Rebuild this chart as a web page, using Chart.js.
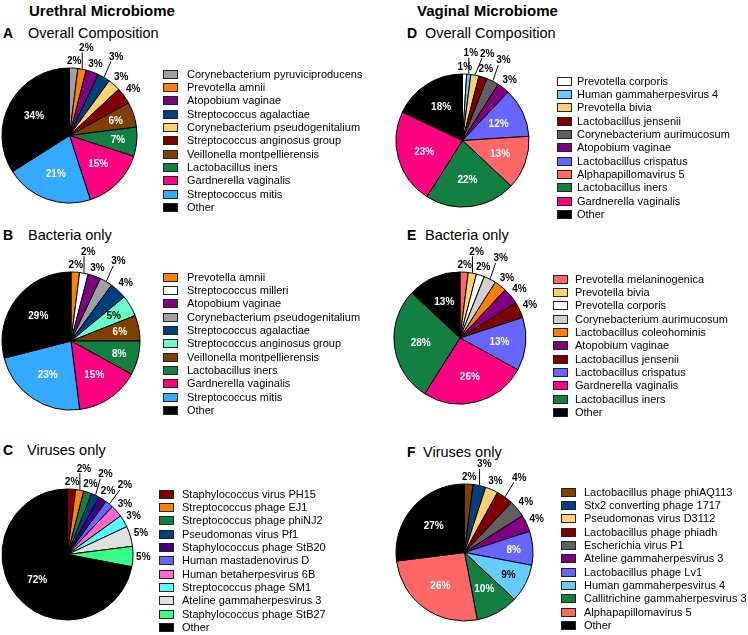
<!DOCTYPE html>
<html>
<head>
<meta charset="utf-8">
<script src="https://cdn.jsdelivr.net/npm/chart.js@4.4.1/dist/chart.umd.min.js"></script>
<style>
    body { margin: 0; width: 748px; height: 635px; overflow: hidden; background: #fff; position: relative;
           font-family: "Liberation Sans", Arial, Helvetica, sans-serif; color: #000; }
    .main-title { position: absolute; top: 2px; font-weight: bold; font-size: 15px; line-height: 18px; white-space: nowrap; }
    .panel-letter { position: absolute; font-weight: bold; font-size: 14px; line-height: 16px; }
    .panel-title { position: absolute; font-size: 14.5px; line-height: 16px; white-space: nowrap; }
    .pie { position: absolute; }
    .legend { position: absolute; font-size: 11px; }
    .legend-row { position: absolute; left: 0; height: 13px; line-height: 13px; white-space: nowrap; }
    .sw { position: absolute; left: 0; top: 2px; width: 13px; height: 7px; border: 1px solid #222; }
</style>
</head>
<body>
<div class="main-title" style="left:29px">Urethral Microbiome</div>
<div class="main-title" style="left:417px">Vaginal Microbiome</div>

<script>
// Dados (percentuais)
const labelsA = ['Corynebacterium pyruviciproducens', 'Prevotella amnii', 'Atopobium vaginae', 'Streptococcus agalactiae',
    'Corynebacterium pseudogenitalium', 'Streptococcus anginosus group', 'Veillonella montpellierensis',
    'Lactobacillus iners', 'Gardnerella vaginalis', 'Streptococcus mitis', 'Other'];
const valuesA = [2, 2, 3, 3, 3, 4, 6, 7, 15, 21, 34];

const labelsB = ['Prevotella amnii', 'Streptococcus milleri', 'Atopobium vaginae', 'Corynebacterium pseudogenitalium',
    'Streptococcus agalactiae', 'Streptococcus anginosus group', 'Veillonella montpellierensis',
    'Lactobacillus iners', 'Gardnerella vaginalis', 'Streptococcus mitis', 'Other'];
const valuesB = [2, 2, 3, 3, 4, 5, 6, 8, 15, 23, 29];

const labelsC = ['Staphylococcus virus PH15', 'Streptococcus phage EJ1', 'Streptococcus phage phiNJ2', 'Pseudomonas virus Pf1',
    'Staphylococcus phage StB20', 'Human mastadenovirus D', 'Human betaherpesvirus 6B', 'Streptococcus phage SM1',
    'Ateline gammaherpesvirus 3', 'Staphylococcus phage StB27', 'Other'];
const valuesC = [2, 2, 2, 2, 2, 2, 3, 3, 5, 5, 72];

const labelsD = ['Prevotella corporis', 'Human gammaherpesvirus 4', 'Prevotella bivia', 'Lactobacillus jensenii',
    'Corynebacterium aurimucosum', 'Atopobium vaginae', 'Lactobacillus crispatus', 'Alphapapillomavirus 5',
    'Lactobacillus iners', 'Gardnerella vaginalis', 'Other'];
const valuesD = [1, 1, 2, 2, 3, 3, 12, 13, 22, 23, 18];

const labelsE = ['Prevotella melaninogenica', 'Prevotella bivia', 'Prevotella corporis', 'Corynebacterium aurimucosum',
    'Lactobacillus coleohominis', 'Atopobium vaginae', 'Lactobacillus jensenii', 'Lactobacillus crispatus',
    'Gardnerella vaginalis', 'Lactobacillus iners', 'Other'];
const valuesE = [2, 2, 2, 3, 3, 4, 4, 13, 26, 28, 13];

const labelsF = ['Lactobacillus phage phiAQ113', 'Stx2 converting phage 1717', 'Pseudomonas virus D3112',
    'Lactobacillus phage phiadh', 'Escherichia virus P1', 'Ateline gammaherpesvirus 3', 'Lactobacillus phage Lv1',
    'Human gammaherpesvirus 4', 'Callitrichine gammaherpesvirus 3', 'Alphapapillomavirus 5', 'Other'];
const valuesF = [2, 3, 3, 4, 4, 4, 8, 9, 10, 26, 27];

// Cores
const colorsA = ['#A0A0A0', '#FF8000', '#800080', '#004080', '#FFD070', '#800000', '#804000', '#118040', '#FF0080', '#33AAFF', '#000000'];
const colorsB = ['#FF8000', '#FFFFFF', '#800080', '#A0A0A0', '#004080', '#66FFCC', '#804000', '#118040', '#FF0080', '#33AAFF', '#000000'];
const colorsC = ['#800000', '#FF8000', '#118040', '#004080', '#400080', '#6666FF', '#FF66CC', '#55FFFF', '#E0E0E0', '#33FF88', '#000000'];
const colorsD = ['#FFFFFF', '#66CCFF', '#FFD070', '#800000', '#606060', '#800080', '#6666FF', '#FF6666', '#118040', '#FF0080', '#000000'];
const colorsE = ['#FF6666', '#FFD070', '#FFFFFF', '#D0D0D0', '#FF8000', '#800080', '#800000', '#6666FF', '#FF0080', '#118040', '#000000'];
const colorsF = ['#804000', '#004080', '#FFD070', '#800000', '#606060', '#800080', '#6666FF', '#66CCFF', '#118040', '#FF6666', '#000000'];

function isLight(hex) {
    const n = parseInt(hex.slice(1), 16);
    const r = (n >> 16) & 255, g = (n >> 8) & 255, b = n & 255;
    return (0.2126 * r + 0.7152 * g + 0.0722 * b) / 255 > 0.65;
}

// Rótulos de percentagem (dentro / fora com linha de chamada)
const pctLabels = {
    id: 'pctLabels',
    afterDatasetsDraw(chart, args, opts) {
        const ctx = chart.ctx;
        const ds = chart.data.datasets[0];
        const meta = chart.getDatasetMeta(0);
        const placed = [];
        const h = 8;
        ctx.save();
        ctx.font = 'bold 10px "Liberation Sans", Arial, sans-serif';
        ctx.textAlign = 'center';
        ctx.textBaseline = 'middle';
        meta.data.forEach((arc, i) => {
            const v = ds.data[i];
            const p = arc.getProps(['x', 'y', 'startAngle', 'endAngle', 'outerRadius'], true);
            const a = (p.startAngle + p.endAngle) / 2;
            const cos = Math.cos(a), sin = Math.sin(a);
            const R = p.outerRadius;
            const txt = v + '%';
            if (v >= opts.insideMin) {
                const rho = R * (v >= 10 ? 0.6 : 0.72);
                ctx.fillStyle = isLight(ds.backgroundColor[i]) ? '#000' : '#fff';
                ctx.fillText(txt, p.x + rho * cos, p.y + rho * sin + 0.5);
                return;
            }
            const w = ctx.measureText(txt).width;
            const spot = (d) => {
                const k = d + w / 2 * Math.abs(cos) + h / 2 * Math.abs(sin);
                return { x: p.x + k * cos, y: p.y + k * sin };
            };
            const hits = (c) => placed.some(b => Math.abs(b.x - c.x) < (w + b.w) / 2 + 1 && Math.abs(b.y - c.y) < h + 1);
            let c = spot(R + 3);
            let lined = false;
            if (hits(c)) {
                c = spot(R + 17);
                lined = true;
            }
            while (hits(c)) c.x += (cos >= 0 ? 1 : -1);
            placed.push({ x: c.x, y: c.y, w: w });
            if (lined) {
                const ex = p.x + (R + 0.5) * cos, ey = p.y + (R + 0.5) * sin;
                const nx = Math.min(Math.max(ex, c.x - w / 2 + 2), c.x + w / 2 - 2);
                const ny = Math.min(Math.max(ey, c.y - h / 2 - 1), c.y + h / 2 + 1);
                ctx.strokeStyle = '#000';
                ctx.lineWidth = 1;
                ctx.beginPath();
                ctx.moveTo(ex, ey);
                ctx.lineTo(nx, ny);
                ctx.stroke();
            }
            ctx.fillStyle = '#000';
            ctx.fillText(txt, c.x, c.y + 0.5);
        });
        ctx.restore();
    }
};

function addText(cls, txt, x, y) {
    const d = document.createElement('div');
    d.className = cls;
    d.textContent = txt;
    d.style.left = x + 'px';
    d.style.top = (y - 8) + 'px';
    document.body.appendChild(d);
}

function addLegend(labels, colors, x, y, textX) {
    const box = document.createElement('div');
    box.className = 'legend';
    box.style.left = x + 'px';
    box.style.top = (y - 6.5) + 'px';
    labels.forEach((lab, i) => {
        const row = document.createElement('div');
        row.className = 'legend-row';
        row.style.top = (i * 13.35) + 'px';
        const sw = document.createElement('span');
        sw.className = 'sw';
        sw.style.background = colors[i];
        const t = document.createElement('span');
        t.textContent = lab;
        t.style.marginLeft = textX + 'px';
        row.appendChild(sw);
        row.appendChild(t);
        box.appendChild(row);
    });
    document.body.appendChild(box);
}

function makePie(values, colors, labels, cx, cy, r, insideMin) {
    const m = 40;
    const size = Math.round(2 * (r + m));
    const canvas = document.createElement('canvas');
    canvas.className = 'pie';
    canvas.width = size;
    canvas.height = size;
    canvas.style.left = (cx - size / 2) + 'px';
    canvas.style.top = (cy - size / 2) + 'px';
    document.body.appendChild(canvas);
    new Chart(canvas.getContext('2d'), {
        type: 'pie',
        data: {
            labels: labels,
            datasets: [{
                data: values,
                backgroundColor: colors,
                borderColor: '#000',
                borderWidth: 1
            }]
        },
        options: {
            responsive: false,
            animation: false,
            layout: { padding: m - 0.5 },
            events: [],
            plugins: {
                legend: { display: false },
                tooltip: { enabled: false },
                pctLabels: { insideMin: insideMin }
            }
        },
        plugins: [pctLabels]
    });
}

document.addEventListener('DOMContentLoaded', function() {
    // Títulos dos painéis
    addText('panel-letter', 'A', 3, 33);   addText('panel-title', 'Overall Composition', 28, 33);
    addText('panel-letter', 'B', 3, 235);  addText('panel-title', 'Bacteria only', 28, 235);
    addText('panel-letter', 'C', 3, 450);  addText('panel-title', 'Viruses only', 27, 450);
    addText('panel-letter', 'D', 407, 33); addText('panel-title', 'Overall Composition', 425, 33);
    addText('panel-letter', 'E', 407, 235); addText('panel-title', 'Bacteria only', 425, 235);
    addText('panel-letter', 'F', 407, 452); addText('panel-title', 'Viruses only', 423, 452);

    // Gráficos
    makePie(valuesA, colorsA, labelsA, 69, 135.5, 67.5, 6);
    makePie(valuesB, colorsB, labelsB, 71, 341, 69, 5);
    makePie(valuesC, colorsC, labelsC, 67, 554, 65.5, 6);
    makePie(valuesD, colorsD, labelsD, 462, 140, 66.7, 5);
    makePie(valuesE, colorsE, labelsE, 460, 338, 66, 5);
    makePie(valuesF, colorsF, labelsF, 464, 552, 68.7, 5);

    // Legendas
    addLegend(labelsA, colorsA, 163, 74, 24);
    addLegend(labelsB, colorsB, 163, 277, 24);
    addLegend(labelsC, colorsC, 159, 494, 23);
    addLegend(labelsD, colorsD, 557, 81, 20);
    addLegend(labelsE, colorsE, 553, 279, 22);
    addLegend(labelsF, colorsF, 561, 492, 23);
});
</script>
</body>
</html>
